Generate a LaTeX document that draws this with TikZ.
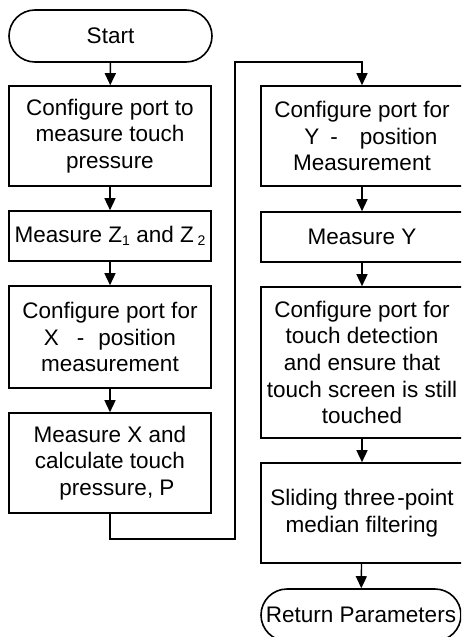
\documentclass[tikz,border=0pt]{standalone}
\usepackage{fontspec}
\setmainfont{Liberation Sans}
\usetikzlibrary{arrows.meta}
\tikzset{
  stepbox/.style={draw, line width=1.6pt, rectangle, minimum width=202pt, inner sep=0pt, align=center,
    font=\fontsize{22.5pt}{26.6pt}\selectfont},
  termbox/.style={draw, line width=1.6pt, rectangle, rounded corners=26pt, minimum height=52pt, inner sep=0pt,
    align=center, font=\fontsize{22.5pt}{26.6pt}\selectfont},
  flow/.style={line width=1.4pt, -{Triangle[length=12pt,width=11pt]}}
}
\newcommand{\subnum}[1]{\raisebox{-0.25ex}{\fontsize{14pt}{14pt}\selectfont #1}}
\begin{document}
\begin{tikzpicture}[x=1pt,y=-1pt]
\clip (0,0) rectangle (461,637);
\fill[white] (0,0) rectangle (461,637);
% left column
\node[termbox, minimum width=203pt] (start) at (110.5,36) {Start};
\node[stepbox, minimum height=100pt] (b1) at (110,136) {Configure port to\\measure touch\\pressure};
\node[stepbox, minimum height=50pt] (b2) at (110,236) {Measure Z\subnum{1} and Z\,\subnum{2}};
\node[stepbox, minimum height=102pt] (b3) at (110,337) {Configure port for\\X\hspace{18pt}-\hspace{14pt}position\\measurement};
\node[stepbox, minimum height=100pt] (b4) at (110,463) {Measure X and\\calculate touch\\\hspace*{14pt}pressure, P};
% right column
\node[stepbox, minimum height=100pt] (b5) at (362,136) {Configure port for\\\hspace*{18pt}Y\hspace{11pt}-\hspace{22pt}position\\Measurement};
\node[stepbox, minimum height=50pt] (b6) at (362,237) {Measure Y};
\node[stepbox, minimum height=151pt] (b7) at (362,362.5) {Configure port for\\touch detection\\and ensure that\\touch screen is still\\touched};
\node[stepbox, minimum height=100pt] (b8) at (362,513) {Sliding three\hspace{2pt}-point\\median filtering};
\node[termbox, minimum width=200pt] (ret) at (361,615) {Return Parameters};
% connector corners
\coordinate (c1) at (110,539);
\coordinate (c2) at (235,539);
\coordinate (c3) at (235,62);
\coordinate (c4) at (362,62);
% arrows
\draw[flow] (start) -- (b1);
\draw[flow] (b1) -- (b2);
\draw[flow] (b2) -- (b3);
\draw[flow] (b3) -- (b4);
\draw[flow] (b4.south) -- (c1) -- (c2) -- (c3) -- (c4) -- (b5.north);
\draw[flow] (b5) -- (b6);
\draw[flow] (b6) -- (b7);
\draw[flow] (b7) -- (b8);
\draw[flow] (b8) -- (ret);
\end{tikzpicture}
\end{document}
